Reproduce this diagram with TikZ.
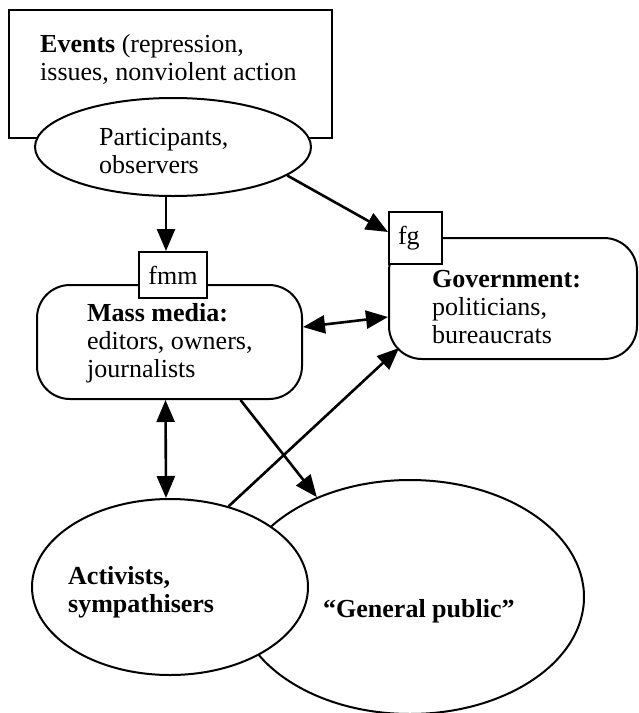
\documentclass[tikz,border=0pt]{standalone}
\usepackage{fontspec}
\setmainfont{Liberation Serif}
\usetikzlibrary{arrows.meta,shapes.geometric}

\begin{document}
\begin{tikzpicture}[x=1pt,y=-1pt,
	box/.style={draw,line width=2pt,fill=white,rounded corners=33pt},
	tag/.style={draw,line width=2pt,fill=white,inner sep=0pt,font=\fontsize{26}{28}\selectfont},
	blob/.style={draw,ellipse,line width=2pt,fill=white,inner sep=0pt},
	arr/.style={line width=2.6pt,-{Triangle[length=22pt,width=18pt]}},
	darr/.style={line width=2.6pt,{Triangle[length=22pt,width=18pt]}-{Triangle[length=22pt,width=18pt]}},
	txt/.style={font=\fontsize{26}{28}\selectfont,align=left,inner sep=0pt}]
	\useasboundingbox (0,0) rectangle (639,713);
	\node[draw,line width=1.6pt,minimum width=323pt,minimum height=128pt] (events) at (170.5,74) {};
	\node[blob,minimum width=276pt,minimum height=98pt] (part) at (173,147) {};
	\node[box,minimum width=265pt,minimum height=114pt] (mass) at (169.5,342) {};
	\node[tag,minimum width=68pt,minimum height=46pt] (fmm) at (173,275) {fmm};
	\node[box,minimum width=248pt,minimum height=121pt] (gov) at (513,298.5) {};
	\node[tag,minimum width=53pt,minimum height=52pt,text width=35pt,align=left] (fg) at (415.5,238) {fg};
	\node[blob,minimum width=348pt,minimum height=234pt] (gp) at (410,597) {};
	\node[blob,minimum width=276pt,minimum height=176pt] (act) at (170,587) {};
	% texts (base = last line)
	\node[txt,anchor=base west] (evtxt) at (40,80) {\textbf{Events} (repression,\\issues, nonviolent action};
	\node[txt,anchor=base west] (parttxt) at (99,173) {Participants,\\observers};
	\node[txt,anchor=base west] (masstxt) at (87,377) {\textbf{Mass media:}\\editors, owners,\\journalists};
	\node[txt,anchor=base west] (govtxt) at (432,343) {\textbf{Government:}\\politicians,\\bureaucrats};
	\node[txt,anchor=base west] (acttxt) at (68,612) {\textbf{Activists,}\\\textbf{sympathisers}};
	\node[txt,anchor=base west] (gptxt) at (323,617) {\textbf{``General public''}};
	% links
	\draw[arr] ([xshift=-7pt]part.south)--([xshift=-7pt]fmm.north);
	\draw[arr] (part.-14)--([yshift=6pt]fg.west);
	\draw[darr] ([yshift=15pt]mass.east)--([yshift=-18.5pt]gov.west);
	\draw[darr] ([xshift=-4pt]mass.south)--([xshift=-4pt]act.north);
	\draw[arr] ([xshift=71pt]mass.south)--(gp.133);
	\draw[arr] (act.54)--([shift={(11pt,12pt)}]gov.south west);
\end{tikzpicture}
\end{document}
